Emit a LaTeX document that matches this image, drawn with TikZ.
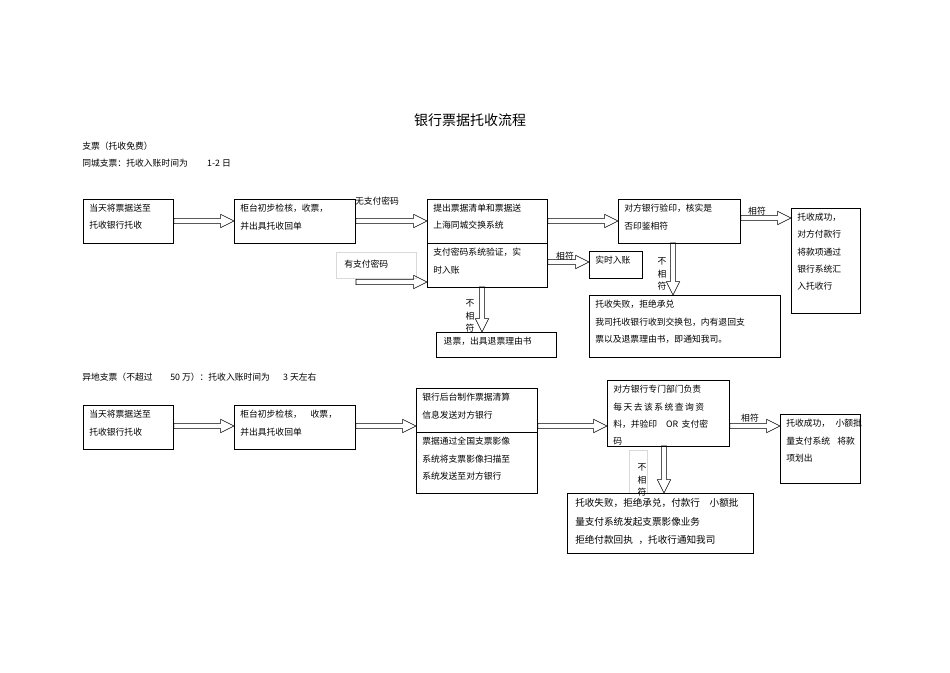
\documentclass[tikz,border=0pt]{standalone}
\usepackage{fontspec}
\setmainfont{Noto Sans CJK SC}
\usetikzlibrary{calc}
\tikzset{
 box/.style={draw,line width=0.7pt,inner sep=0pt,anchor=north west},
 gbox/.style={draw=black!15,line width=0.5pt,inner sep=0pt,anchor=north west},
 txt/.style={anchor=north west,inner sep=0pt,align=left,font=\fontsize{6.6}{13}\selectfont},
 lbl/.style={inner sep=0pt,font=\fontsize{6.6}{13}\selectfont},
 harr/.style={draw,line width=0.6pt,to path={let \p1=(\tikztostart),\p2=(\tikztotarget) in
   (\x1,\y1+2pt) -- (\x2-10pt,\y1+2pt) -- (\x2-10pt,\y1+5pt) -- (\x2,\y1) -- (\x2-10pt,\y1-5pt) -- (\x2-10pt,\y1-2pt) -- (\x1,\y1-2pt) -- cycle}},
 varr/.style={draw,line width=0.6pt,to path={let \p1=(\tikztostart),\p2=(\tikztotarget) in
   (\x1-2pt,\y1) -- (\x1-2pt,\y2+10pt) -- (\x1-5pt,\y2+10pt) -- (\x1,\y2) -- (\x1+5pt,\y2+10pt) -- (\x1+2pt,\y2+10pt) -- (\x1+2pt,\y1) -- cycle}},
}
\newcommand\bx[6]{\node[box,minimum width=#4*0.75pt,minimum height=#5*0.75pt] (#1) at (#2,#3) {};
 \node[txt] at ($(#1.north west)+(6,5)$) {#6};}
\begin{document}
\begin{tikzpicture}[x=0.75pt,y=-0.75pt]
\useasboundingbox (0,0) rectangle (950,672);
\node[font=\fontsize{10.5}{12}\selectfont] (title) at (470,120) {银行票据托收流程};
\node[lbl,anchor=west] (h1) at (82,146) {支票（托收免费）};
\node[lbl,anchor=west] (h2) at (82,163) {同城支票：托收入账时间为\hspace{2.2em}1-2 日};
% row 1
\bx{a1}{83}{199}{90}{44}{当天将票据送至\\托收银行托收}
\bx{a2}{234}{199}{121}{44}{柜台初步检核，收票，\\并出具托收回单}
\node[lbl] (nopw) at (377,201) {无支付密码};
\bx{a3}{427}{199}{120}{44}{提出票据清单和票据送\\上海同城交换系统}
\bx{a3b}{427}{243}{120}{44}{支付密码系统验证，实\\时入账}
\node[gbox,minimum width=80*0.75pt,minimum height=26*0.75pt] (pwb) at (336,252) {};
\node[lbl,anchor=west] (pw) at (344,264) {有支付密码};
\coordinate (pws) at (356,282);
\bx{rt}{589}{251}{53}{27}{实时入账}
\node[lbl] (xf1) at (565,256) {相符};
\bx{tp}{436}{332}{120}{25}{\,退票，出具退票理由书}
\node[lbl,align=center,font=\fontsize{6.6}{9.5}\selectfont] (bxf1) at (470,316) {不\\相\\符};
\bx{a4}{618}{199}{122}{44}{对方银行验印，核实是\\否印鉴相符}
\bx{a5}{791}{208}{69}{105}{托收成功，\\对方付款行\\将款项通过\\银行系统汇\\入托收行}
\node[lbl] (xf2) at (757,211) {相符};
\bx{f1}{589}{295}{191}{62}{托收失败，拒绝承兑\\我司托收银行收到交换包，内有退回支\\票以及退票理由书，即通知我司。}
\node[lbl,align=center,font=\fontsize{6.6}{9.5}\selectfont] (bxf2) at (662,274) {不\\相\\符};
\path (a1.east |- 0,221) coordinate (a1e) (a2.east |- 0,221) coordinate (a2e)
      (a3.east |- 0,221) coordinate (a3e) (a4.east |- 0,218) coordinate (a4e)
      (a3b.east |- 0,262) coordinate (a3be) (482,287) coordinate (a3bs) (673,243) coordinate (a4s);
\draw (a1e) to[harr] (a2.west |- a1e);
\draw (a2e) to[harr] (a3.west |- a2e);
\draw (pws) to[harr] (a3b.west |- pws);
\draw (a3e) to[harr] (a4.west |- a3e);
\draw (a4e) to[harr] (a5.west |- a4e);
\draw (a3be) to[harr] (rt.west |- a3be);
\draw (a3bs) to[varr] (a3bs |- tp.north);
\draw (a4s) to[varr] (a4s |- f1.north);
% row 2
\node[lbl,anchor=west] (h3) at (82,377) {异地支票（不超过\hspace{2em}50 万）：托收入账时间为\hspace{1.5em}3 天左右};
\bx{b1}{83}{405}{90}{44}{当天将票据送至\\托收银行托收}
\bx{b2}{234}{405}{121}{44}{柜台初步检核，\hspace{1em}收票，\\并出具托收回单}
\bx{b3}{416}{388}{121}{44}{银行后台制作票据清算\\信息发送对方银行}
\bx{b3b}{416}{432}{121}{61}{票据通过全国支票影像\\系统将支票影像扫描至\\系统发送至对方银行}
\bx{b4}{607}{380}{122}{66}{对方银行专门部门负责\\每\,天\,去\,该\,系\,统\,查\,询\,资\\料，并验印\hspace{1em}OR\hspace{0.4em}支付密\\码}
\bx{b5}{780}{414}{80}{69}{托收成功，\hspace{0.6em}小额批\\量支付系统\hspace{0.8em}将款\\项划出}
\node[lbl] (xf3) at (750,418) {相符};
\node[gbox,minimum width=18*0.75pt,minimum height=43*0.75pt] (gb2) at (629,450) {};
\node[lbl,align=center,font=\fontsize{6.6}{9.5}\selectfont] (bxf3) at (642,480) {不\\相\\符};
\node[box,minimum width=186*0.75pt,minimum height=60*0.75pt] (f2) at (567,493) {};
\node[txt,font=\fontsize{7.2}{14}\selectfont] at ($(f2.north west)+(8,5)$) {托收失败，拒绝承兑，付款行\hspace{1em}小额批\\量支付系统发起支票影像业务\\拒绝付款回执\hspace{0.6em}，托收行通知我司};
\path (b1.east |- 0,426) coordinate (b1e) (b2.east |- 0,426) coordinate (b2e)
      (b3.east |- 0,426) coordinate (b3e) (b4.east |- 0,426) coordinate (b4e)
      (664,446) coordinate (b4s);
\draw (b1e) to[harr] (b2.west |- b1e);
\draw (b2e) to[harr] (b3.west |- b2e);
\draw (b3e) to[harr] (b4.west |- b3e);
\draw (b4e) to[harr] (b5.west |- b4e);
\draw (b4s) to[varr] (b4s |- f2.north);
\end{tikzpicture}
\end{document}
